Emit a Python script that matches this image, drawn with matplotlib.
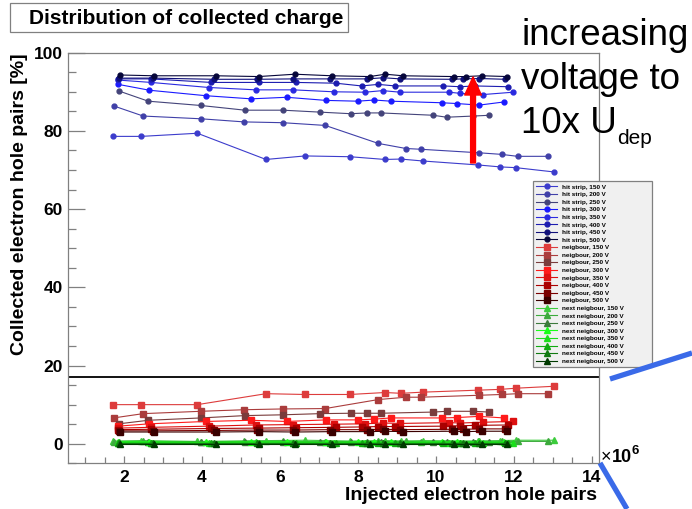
import matplotlib
matplotlib.use('Agg')
import matplotlib.pyplot as plt
from matplotlib.patches import Rectangle
from matplotlib.lines import Line2D
from matplotlib.ticker import MultipleLocator

plt.rcParams['font.family'] = ['Liberation Sans', 'DejaVu Sans']

# injected pairs (x 1e6), one list per bias voltage
voltages = [150, 200, 250, 300, 350, 400, 450, 500]
x_inj = {
    150: [1.71, 2.44, 3.88, 5.64, 6.64, 7.79, 8.69, 9.10, 9.67, 11.07, 11.64, 12.05, 13.03],
    200: [1.73, 2.49, 3.97, 5.08, 6.07, 7.16, 8.52, 9.23, 9.62, 11.11, 11.68, 12.09, 12.86],
    250: [1.87, 2.62, 3.97, 5.10, 6.07, 7.03, 7.81, 8.24, 8.58, 9.93, 10.27, 10.96, 11.37],
    300: [1.85, 2.65, 4.10, 5.26, 6.17, 7.18, 7.99, 8.42, 8.84, 10.15, 10.53, 11.11, 11.74],
    350: [1.85, 2.69, 4.18, 5.38, 6.34, 7.38, 8.18, 8.63, 9.08, 10.34, 10.62, 11.21, 11.98],
    400: [1.85, 2.69, 4.23, 5.46, 6.40, 7.43, 8.09, 8.52, 8.95, 10.19, 10.62, 11.00, 11.85],
    450: [1.88, 2.73, 4.31, 5.40, 6.32, 7.28, 8.24, 8.65, 9.08, 10.40, 10.70, 11.11, 11.77],
    500: [1.90, 2.76, 4.35, 5.45, 6.38, 7.33, 8.30, 8.70, 9.15, 10.45, 10.76, 11.17, 11.83],
}

hit_strip = {
    150: [78.6, 78.6, 79.4, 72.7, 73.6, 73.4, 72.7, 72.8, 72.3, 71.3, 70.8, 70.6, 69.5],
    200: [86.4, 83.8, 83.1, 82.3, 82.1, 81.4, 76.8, 75.5, 75.3, 74.4, 74.0, 73.5, 73.5],
    250: [90.2, 87.6, 86.5, 85.3, 85.3, 84.8, 84.4, 84.6, 84.6, 84.0, 83.5, 83.8, 84.0],
    300: [91.9, 90.4, 89.0, 88.2, 88.6, 87.8, 87.6, 87.9, 87.6, 87.2, 87.0, 86.6, 87.4],
    350: [93.0, 92.4, 91.1, 90.5, 90.5, 90.0, 89.9, 90.3, 89.9, 89.9, 89.6, 89.3, 89.9],
    400: [93.3, 93.3, 92.4, 92.4, 92.4, 92.2, 91.5, 91.9, 91.5, 91.5, 91.3, 91.5, 91.3],
    450: [93.5, 93.5, 93.2, 93.2, 93.3, 93.3, 93.3, 93.6, 93.3, 93.2, 93.3, 93.4, 93.2],
    500: [94.3, 94.1, 94.1, 93.9, 94.5, 94.1, 93.9, 94.5, 94.1, 93.9, 93.9, 94.1, 93.9],
}

neighbour = {
    150: [10.0, 10.0, 10.0, 12.8, 12.6, 12.6, 13.1, 12.9, 13.2, 13.7, 13.9, 14.2, 14.7],
    200: [6.6, 7.7, 8.3, 8.7, 8.9, 9.0, 11.3, 11.9, 11.9, 12.4, 12.6, 12.8, 12.8],
    250: [5.1, 6.0, 6.6, 7.2, 7.4, 7.7, 7.8, 7.8, 7.8, 8.1, 8.3, 8.3, 8.1],
    300: [4.5, 5.1, 5.7, 6.0, 5.7, 6.1, 6.1, 6.3, 6.6, 6.6, 6.7, 7.0, 6.6],
    350: [4.0, 4.2, 4.5, 4.8, 4.9, 5.0, 5.1, 5.3, 5.2, 5.4, 5.3, 5.5, 5.7],
    400: [3.6, 3.7, 3.9, 4.0, 4.1, 4.2, 4.3, 4.4, 4.4, 4.5, 4.6, 4.7, 4.8],
    450: [3.3, 3.3, 3.4, 3.5, 3.5, 3.6, 3.6, 3.7, 3.6, 3.7, 3.7, 3.8, 3.8],
    500: [3.0, 3.0, 3.0, 3.1, 3.0, 3.1, 3.1, 3.2, 3.1, 3.2, 3.1, 3.2, 3.2],
}

next_neighbour = {
    150: [0.7, 0.8, 0.6, 0.8, 0.9, 0.7, 0.8, 0.7, 0.8, 0.7, 0.8, 0.9, 0.9],
    200: [0.5, 0.6, 0.5, 0.6, 0.6, 0.5, 0.6, 0.6, 0.5, 0.6, 0.6, 0.6, 0.6],
    250: [0.4, 0.4, 0.5, 0.4, 0.5, 0.4, 0.5, 0.4, 0.5, 0.4, 0.5, 0.4, 0.5],
    300: [0.5, 0.5, 0.4, 0.5, 0.5, 0.4, 0.5, 0.5, 0.4, 0.5, 0.4, 0.5, 0.4],
    350: [0.3, 0.3, 0.3, 0.4, 0.3, 0.3, 0.3, 0.3, 0.3, 0.3, 0.3, 0.3, 0.3],
    400: [0.2, 0.2, 0.2, 0.2, 0.2, 0.2, 0.2, 0.2, 0.2, 0.2, 0.2, 0.2, 0.2],
    450: [0.1, 0.1, 0.1, 0.1, 0.1, 0.1, 0.1, 0.1, 0.1, 0.1, 0.1, 0.1, 0.1],
    500: [0.0, 0.0, 0.0, 0.0, 0.0, 0.0, 0.0, 0.0, 0.0, 0.0, 0.0, 0.0, 0.0],
}

blues = ['#3c3ccc', '#4040a8', '#44447a', '#1a1aff', '#2a2ae0', '#1c1cb0', '#10107a', '#06063a']
reds = ['#dd3c3c', '#aa3c3c', '#7a3c3c', '#ff1a1a', '#dd1010', '#aa0000', '#7a0000', '#3a0000']
greens = ['#3ccc3c', '#3caa3c', '#3c7a3c', '#1aff1a', '#1add1a', '#10aa10', '#107a10', '#003a00']

fig = plt.figure(figsize=(6.92, 5.09), dpi=100)
ax = fig.add_axes([68.3 / 692, 1 - 463.3 / 509, (599 - 68.3) / 692, (463.3 - 52.7) / 509])

for v, c in zip(voltages, blues):
    ax.plot(x_inj[v], hit_strip[v], '-o', color=c, lw=0.8, ms=3.5, label='hit strip, %d V' % v)
for v, c in zip(voltages, reds):
    ax.plot(x_inj[v], neighbour[v], '-s', color=c, lw=0.8, ms=4.8, label='neigbour, %d V' % v)
for v, c in zip(voltages, greens):
    ax.plot(x_inj[v], next_neighbour[v], '-^', color=c, lw=0.8, ms=4.5, label='next neigbour, %d V' % v)

ax.axhline(17.1, color='black', lw=1.3)

ax.set_xlim(0.57, 14.18)
ax.set_ylim(-5, 100)
ax.xaxis.set_major_locator(MultipleLocator(2))
ax.xaxis.set_minor_locator(MultipleLocator(0.5))
ax.yaxis.set_major_locator(MultipleLocator(20))
ax.yaxis.set_minor_locator(MultipleLocator(5))
ax.tick_params(axis='both', which='both', direction='in', colors='#808080',
               labelcolor='black', labelsize=12.5, width=0.9)
ax.tick_params(axis='y', which='major', length=12, pad=4)
ax.tick_params(axis='y', which='minor', length=5.8)
ax.tick_params(axis='x', which='major', length=5, pad=5)
ax.tick_params(axis='x', which='minor', length=4.5)
for lab in ax.get_xticklabels() + ax.get_yticklabels():
    lab.set_fontweight('bold')
for s in ax.spines.values():
    s.set_color('#808080')
    s.set_linewidth(0.9)

ax.annotate('', xy=(10.95, 93.8), xytext=(10.95, 71.8),
            arrowprops=dict(arrowstyle='simple,head_length=1.3,head_width=1.2,tail_width=0.35',
                            color='red', mutation_scale=10, shrinkA=0, shrinkB=0))

leg = ax.legend(loc='upper left',
                bbox_to_anchor=(533 / 692, 1 - 371 / 509, 119 / 692, 190 / 509),
                bbox_transform=fig.transFigure, mode='expand', borderaxespad=0, ncol=1,
                prop={'size': 4.6, 'weight': 'bold'}, labelspacing=0.33,
                handlelength=3.3, handletextpad=0.8, borderpad=0.5,
                fancybox=False, framealpha=1, markerscale=1.0)
leg.get_frame().set_facecolor('#f0f0f0')
leg.get_frame().set_edgecolor('#808080')
leg.get_frame().set_linewidth(0.9)

# title box
fig.patches.append(Rectangle((10 / 692, 1 - 32 / 509), 338 / 692, 29 / 509,
                             transform=fig.transFigure, fill=False,
                             edgecolor='#808080', lw=0.9))
fig.text(186 / 692, 1 - 18 / 509, 'Distribution of collected charge',
         ha='center', va='center', fontsize=15, fontweight='bold')

fig.text(20 / 692, 1 - 53 / 509, 'Collected electron hole pairs [%]', rotation=90,
         ha='center', va='top', fontsize=14, fontweight='bold')
fig.text(597 / 692, 1 - 496 / 509, 'Injected electron hole pairs',
         ha='right', va='center', fontsize=14, fontweight='bold')
fig.text(601 / 692, 1 - 458 / 509, '\u00d7', ha='left', va='center', fontsize=13)
fig.text(612 / 692, 1 - 458 / 509, '10', ha='left', va='center', fontsize=13, fontweight='bold')
fig.text(632 / 692, 1 - 451 / 509, '6', ha='left', va='center', fontsize=9.5, fontweight='bold')

# slide annotation
fig.text(521 / 692, 1 - 45 / 509, 'increasing', ha='left', va='baseline', fontsize=26.5)
fig.text(521 / 692, 1 - 89 / 509, 'voltage to', ha='left', va='baseline', fontsize=26.5)
fig.text(521 / 692, 1 - 133 / 509, '10x U', ha='left', va='baseline', fontsize=26.5)
fig.text(617 / 692, 1 - 144 / 509, 'dep', ha='left', va='baseline', fontsize=15)

for (xa, ya), (xb, yb) in [((610, 379), (692, 353)), ((600, 463), (627, 509))]:
    fig.add_artist(Line2D([xa / 692, xb / 692], [1 - ya / 509, 1 - yb / 509],
                          transform=fig.transFigure, color='#3a6ae8', lw=3.8,
                          solid_capstyle='butt'))

fig.savefig('out.png', dpi=100)
